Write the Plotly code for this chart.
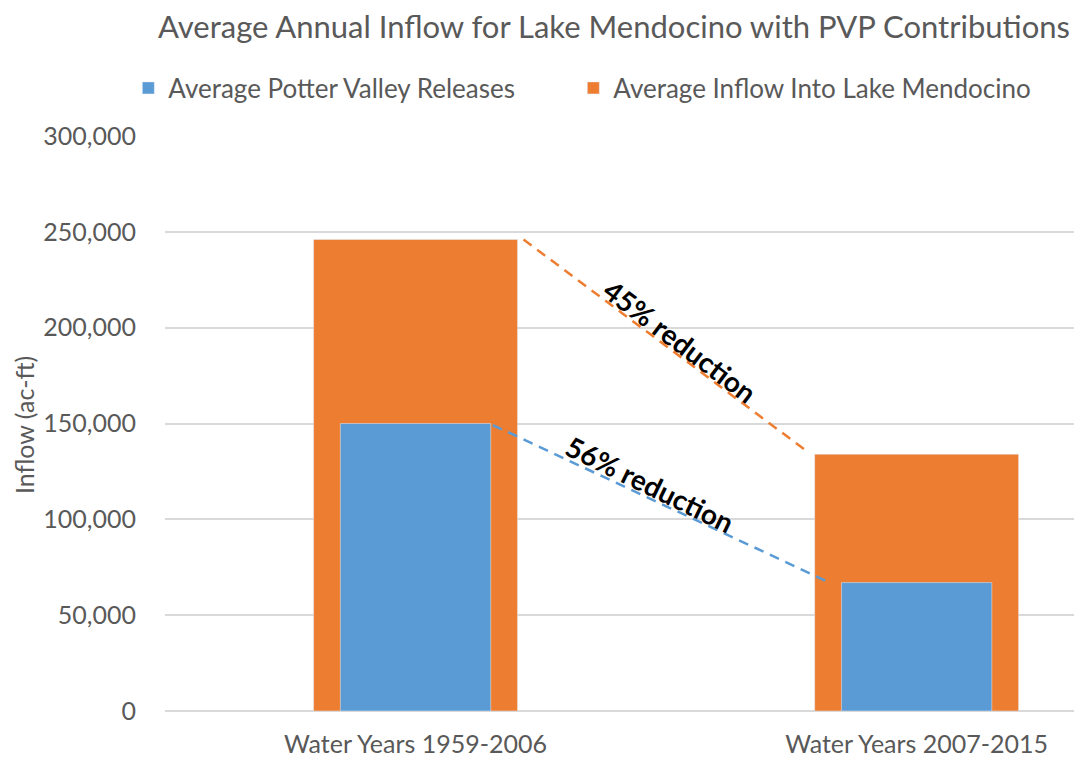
import plotly.graph_objects as go

categories = ["Water Years 1959-2006", "Water Years 2007-2015"]
inflow = [246000, 134000]          # Average Inflow Into Lake Mendocino
potter_valley = [150000, 67000]    # Average Potter Valley Releases
reduction_labels = ["45% reduction", "56% reduction"]
y_ticks = [0, 50000, 100000, 150000, 200000, 250000, 300000]

BLUE = "#5B9BD5"
ORANGE = "#ED7D31"
FONT = "Lato, 'Open Sans', sans-serif"
GREY = "#595959"

xpos = list(range(len(categories)))
w_out = 0.407
w_in = 0.30

fig = go.Figure()
fig.add_trace(go.Bar(
    x=xpos, y=inflow, width=[w_out] * len(xpos), marker_color=ORANGE,
    name="Average Inflow Into Lake Mendocino", legend="legend2",
))
fig.add_trace(go.Bar(
    x=xpos, y=potter_valley, width=[w_in] * len(xpos), marker_color=BLUE,
    name="Average Potter Valley Releases", legend="legend",
))

# dashed connectors between bar tops
fig.add_trace(go.Scatter(
    x=[xpos[0] + w_out / 2 + 0.012, xpos[1] - w_out / 2 - 0.018],
    y=[inflow[0], inflow[1] + 2000], mode="lines",
    line=dict(color=ORANGE, width=2.5, dash="10px,7px"), showlegend=False, hoverinfo="skip",
))
fig.add_trace(go.Scatter(
    x=[xpos[0] + w_in / 2 + 0.004, xpos[1] - w_in / 2 - 0.024],
    y=[potter_valley[0] - 800, potter_valley[1]], mode="lines",
    line=dict(color=BLUE, width=2.5, dash="10px,7px"), showlegend=False, hoverinfo="skip",
))

fig.add_annotation(x=0.528, y=193000, text=reduction_labels[0],
                   showarrow=False, textangle=37,
                   font=dict(family=FONT, size=28, color="black", weight="bold"))
fig.add_annotation(x=0.468, y=118500, text=reduction_labels[1],
                   showarrow=False, textangle=26,
                   font=dict(family=FONT, size=28, color="black", weight="bold"))

# y-axis title
fig.add_annotation(xref="paper", yref="paper", x=0, y=(711 - 425) / 575, xshift=-141,
                   text="Inflow (ac-ft)",
                   showarrow=False, textangle=-90, xanchor="center", yanchor="middle",
                   font=dict(family=FONT, size=25, color=GREY))

legend_style = dict(orientation="h", xanchor="left", y=1 + 48 / 575, yanchor="middle",
                    font=dict(family=FONT, size=26, color=GREY),
                    itemwidth=30, bgcolor="rgba(0,0,0,0)")

fig.update_layout(
    width=1074, height=754,
    margin=dict(l=157, r=0, t=128, b=51),
    paper_bgcolor="white", plot_bgcolor="white",
    barmode="overlay",
    font=dict(family=FONT, color=GREY),
    title=dict(text="Average Annual Inflow for Lake Mendocino with PVP Contributions",
               x=606 / 1074, xanchor="center", xref="container",
               y=1 - 19 / 754, yanchor="middle", yref="container",
               font=dict(family=FONT, size=31, color=GREY)),
    legend=dict(x=-0.04, **legend_style),
    legend2=dict(x=-0.04 + 445 / 917, **legend_style),
    xaxis=dict(range=[-0.5, 1.33], tickvals=xpos, ticktext=categories, showgrid=False,
               zeroline=False, showline=False, ticks="", ticklabelstandoff=16,
               tickfont=dict(size=25, color=GREY)),
    yaxis=dict(range=[0, 300000], tickvals=y_ticks, tickformat=",", showgrid=True,
               gridcolor="#D9D9D9", gridwidth=1.5, zeroline=True, zerolinecolor="#D9D9D9",
               zerolinewidth=1.5, showline=False, ticks="", ticklabelstandoff=28,
               tickfont=dict(size=25, color=GREY)),
    showlegend=True,
)

fig.write_html("out.html")
